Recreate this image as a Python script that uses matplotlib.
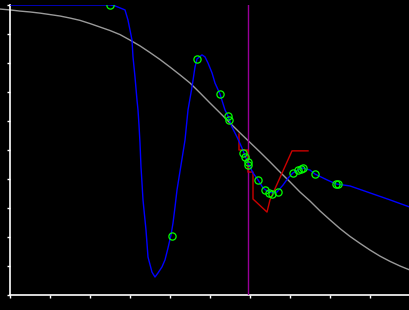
import matplotlib
matplotlib.use("Agg")
import matplotlib.pyplot as plt

# grey reference curve
grey_x = [-0.25, 0.0, 0.25, 0.5, 0.75, 1.0, 1.25, 1.5, 1.75, 2.0, 2.25, 2.5, 2.75,
          3.0, 3.25, 3.5, 3.75, 4.0, 4.25, 4.5, 4.75, 5.0, 5.25, 5.5, 5.75, 6.0,
          6.25, 6.5, 6.75, 7.0, 7.25, 7.5, 7.75, 8.0, 8.25, 8.5, 8.75, 9.0, 9.25,
          9.5, 9.75, 10.0]
grey_y = [9.86, 9.83, 9.79, 9.76, 9.72, 9.67, 9.62, 9.55, 9.47, 9.36, 9.24, 9.12,
          8.98, 8.79, 8.59, 8.36, 8.12, 7.86, 7.59, 7.31, 6.97, 6.62, 6.28, 5.93,
          5.59, 5.26, 4.93, 4.59, 4.24, 3.90, 3.55, 3.24, 2.90, 2.59, 2.29, 2.02,
          1.78, 1.55, 1.34, 1.16, 1.0, 0.86]

# blue interpolating curve
blue_x = [0.0, 2.5, 2.625, 2.75, 2.875, 2.95, 3.05, 3.075, 3.125, 3.175, 3.2, 3.225,
          3.25, 3.275, 3.3, 3.325, 3.35, 3.4, 3.45, 3.55, 3.625, 3.7, 3.8, 3.875,
          3.95, 4.025, 4.075, 4.125, 4.175, 4.275, 4.375, 4.45, 4.55, 4.625, 4.675,
          4.8, 4.875, 4.95, 5.05, 5.125, 5.25, 5.375, 5.45, 5.55, 5.675, 5.8, 5.95,
          6.075, 6.2, 6.325, 6.425, 6.55, 6.675, 6.825, 6.95, 7.075, 7.2, 7.3, 7.5,
          7.625, 7.925, 8.15, 8.5, 9.0, 9.5, 10.0]
blue_y = [10.0, 10.0, 9.97, 9.90, 9.83, 9.48, 8.79, 8.21, 7.52, 6.72, 6.38, 5.86,
          5.24, 4.41, 3.86, 3.28, 2.93, 2.24, 1.31, 0.79, 0.62, 0.76, 0.97, 1.21,
          1.62, 2.07, 2.48, 3.03, 3.62, 4.48, 5.34, 6.38, 7.17, 7.86, 8.14,
          8.28, 8.21, 8.0, 7.66, 7.31, 6.93, 6.38, 6.17, 5.79, 5.45, 5.07, 4.55,
          4.21, 3.97, 3.69, 3.59, 3.52, 3.55, 3.79, 4.03, 4.21, 4.31, 4.38, 4.31,
          4.17, 3.97, 3.83, 3.76, 3.52, 3.28, 3.03]

# sample points
pts_x = [2.5, 4.04, 4.675, 5.25, 5.45, 5.475, 5.825, 5.875, 5.95, 5.95, 6.2, 6.375,
         6.475, 6.55, 6.7, 7.075, 7.2, 7.275, 7.325, 7.625, 8.15, 8.2]
pts_y = [10.0, 2.05, 8.14, 6.93, 6.17, 6.03, 4.90, 4.76, 4.59, 4.48, 3.97, 3.62,
         3.52, 3.48, 3.55, 4.21, 4.31, 4.34, 4.38, 4.17, 3.83, 3.83]

# red step line
red_x = [5.725, 5.725, 5.95, 5.95, 6.075, 6.075, 6.425, 6.5, 7.05, 7.45]
red_y = [5.55, 5.0, 5.0, 4.24, 4.24, 3.31, 2.86, 3.28, 4.97, 4.97]

vline_x = 5.95

fig = plt.figure(figsize=(4.1, 3.1), dpi=100, facecolor="black")
ax = fig.add_axes([10 / 410, 15 / 310, 400 / 410, 290 / 310])
ax.set_facecolor("black")

ax.plot(grey_x, grey_y, color="#9a9a9a", lw=1.0, clip_on=False, zorder=2)
ax.axvline(vline_x, color="#990099", lw=1.0, zorder=3)
ax.plot(red_x, red_y, color="#cc0000", lw=1.0, zorder=4)
ax.plot(blue_x, blue_y, color="#0000ff", lw=1.0, zorder=5)
ax.plot(pts_x, pts_y, "o", mfc="none", mec="#00ff00", ms=5.2, mew=0.9, zorder=6)

ax.set_xlim(0, 10)
ax.set_ylim(0, 10)
ax.set_xticks(range(0, 11))
ax.set_yticks(range(0, 11))
ax.set_xticklabels([])
ax.set_yticklabels([])
ax.tick_params(colors="white", direction="out", length=2.5, width=1)
for s in ["top", "right"]:
    ax.spines[s].set_visible(False)
for s in ["left", "bottom"]:
    ax.spines[s].set_color("white")
    ax.spines[s].set_linewidth(1.2)

fig.savefig("out.png", dpi=100, facecolor="black")
